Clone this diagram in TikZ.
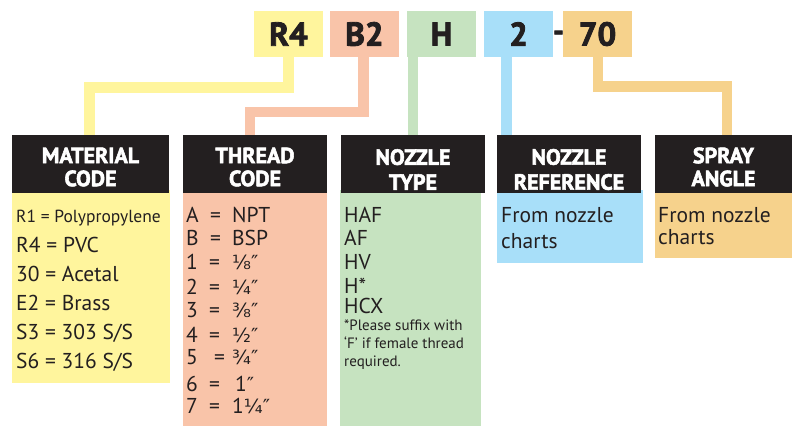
\documentclass[tikz,border=0pt]{standalone}
\usepackage{fontspec}
\setmainfont{PT Sans}
\newfontfamily\heavy{PT Sans}[BoldFeatures={FakeBold=2.5}]
\newfontfamily\fr{DejaVu Sans}
\definecolor{ink}{HTML}{231F20}
\definecolor{cy}{HTML}{FFF59D}
\definecolor{cs}{HTML}{F9C4A9}
\definecolor{cg}{HTML}{C6E3C0}
\definecolor{cb}{HTML}{A8DFF9}
\definecolor{co}{HTML}{F6D28C}
\newcommand{\thr}[3]{\makebox[#1pt][l]{#2}#3}
\newcommand{\frc}[1]{{\fr\fontsize{19.5}{19.5}\selectfont #1}}
\begin{document}
\begin{tikzpicture}[x=1pt,y=-1pt,
  codebox/.style={rectangle, minimum width=69pt, minimum height=46pt, inner sep=0pt,
    text=ink, font=\fontsize{33}{33}\selectfont\heavy\bfseries},
  hdr/.style={rectangle, fill=ink, inner sep=0pt, minimum height=58pt},
  hlab/.style={inner sep=0pt, text=white, align=center, font=\fontsize{22}{23}\selectfont\heavy\bfseries},
  conn/.style={line width=10.5pt},
  txt/.style={anchor=base west, inner sep=0pt, text=ink, font=\fontsize{21.5}{21.5}\selectfont},
  small/.style={anchor=base west, inner sep=0pt, text=ink, font=\fontsize{15}{15}\selectfont}]
\useasboundingbox (0,0) rectangle (792,426);

% top code boxes
\node[codebox, fill=cy] (r4) at (288.5,34) {R4};
\node[codebox, fill=cs] (b2) at (364.5,34) {B2};
\node[codebox, fill=cg] (h) at (441.5,34) {H};
\node[codebox, fill=cb] (two) at (518.5,34) {2};
\node[codebox, fill=co] (seventy) at (597.5,34) {70};
\node[inner sep=0pt, text=ink, font=\fontsize{30}{30}\selectfont\heavy\bfseries] (dash) at (558.5,36) {-};

% body panels
\fill[cy] (12,190) rectangle (170,383);
\fill[cs] (183,190) rectangle (327,426);
\fill[cg] (340,190) rectangle (481,426);
\fill[cb] (497,190) rectangle (643,263);
\fill[co] (655,190) rectangle (792,258);

% header bars
\node[hdr, minimum width=157pt] (mat) at (90.5,164) {};
\node[hdr, minimum width=144pt] (thrd) at (255,164) {};
\node[hdr, minimum width=144pt] (ntype) at (413,164) {};
\node[hdr, minimum width=144pt] (nref) at (569,164) {};
\node[hdr, minimum width=137pt] (spray) at (723.5,164) {};

% connectors
\draw[conn, cy] (r4.south) -- ++(0,30.5) -| ([xshift=-1pt]mat.north);
\draw[conn, cs] ([xshift=-1pt]b2.south) -- ++(0,55) -| ([xshift=-5pt]thrd.north);
\draw[conn, cg] ([xshift=-28.5pt]h.south) -- (ntype.north);
\draw[conn, cb] ([xshift=-12pt]two.south) -- ([xshift=-12pt]two.south |- nref.north);
\draw[conn, co] ([xshift=0.5pt]seventy.south) -- ++(0,29.5) -| ([xshift=3.5pt]spray.north);

% redraw header bars on top of connector ends
\fill[ink] (mat.south west) rectangle (mat.north east);
\fill[ink] (thrd.south west) rectangle (thrd.north east);
\fill[ink] (ntype.south west) rectangle (ntype.north east);
\fill[ink] (nref.south west) rectangle (nref.north east);
\fill[ink] (spray.south west) rectangle (spray.north east);

% header labels
\node[hlab] (matl) at (90.5,167) {MATERIAL\\CODE};
\node[hlab] (thrl) at (255,167) {THREAD\\CODE};
\node[hlab] (ntypel) at (413,169.5) {NOZZLE\\[2pt]TYPE};
\node[hlab] (nrefl) at (569,169.5) {NOZZLE\\[2pt]REFERENCE};
\node[hlab] (sprayl) at (723.5,167) {SPRAY\\ANGLE};

% material code
\node[txt, font=\fontsize{17.5}{17.5}\selectfont] (m1) at (16,222) {R1 = Polypropylene};
\node[txt] (m2) at (16,252) {R4 = PVC};
\node[txt] (m3) at (16,281) {30 = Acetal};
\node[txt] (m4) at (16,310) {E2 = Brass};
\node[txt] (m5) at (16,339) {S3 = 303 S/S};
\node[txt] (m6) at (16,368) {S6 = 316 S/S};

% thread code
\node[txt] (t1) at (186,222) {\thr{24}{A}{\thr{22}{=}{NPT}}};
\node[txt] (t2) at (186,245) {\thr{24}{B}{\thr{22}{=}{BSP}}};
\node[txt] (t3) at (186,269) {\thr{23}{1}{\thr{23}{=}{\frc{⅛″}}}};
\node[txt] (t4) at (186,294) {\thr{23}{2}{\thr{23}{=}{\frc{¼″}}}};
\node[txt] (t5) at (186,317) {\thr{23}{3}{\thr{23}{=}{\frc{⅜″}}}};
\node[txt] (t6) at (186,342) {\thr{23}{4}{\thr{23}{=}{\frc{½″}}}};
\node[txt] (t7) at (186,364) {\thr{28}{5}{\thr{18}{=}{\frc{¾″}}}};
\node[txt] (t8) at (186,391) {\thr{23}{6}{\thr{26}{=}{1\frc{″}}}};
\node[txt] (t9) at (186,413) {\thr{23}{7}{\thr{23}{=}{1\frc{¼″}}}};

% nozzle type
\node[txt] (n1) at (344,222) {HAF};
\node[txt] (n2) at (344,245) {AF};
\node[txt] (n3) at (344,269) {HV};
\node[txt] (n4) at (344,293) {H*};
\node[txt] (n5) at (344,313) {HCX};
\node[small] (n6) at (344,330) {*Please suffix with};
\node[small] (n7) at (344,348) {‘F’ if female thread};
\node[small] (n8) at (344,366) {required.};

% nozzle reference
\node[txt] (r1) at (501,222) {From nozzle};
\node[txt] (r2) at (501,248) {charts};

% spray angle
\node[txt] (s1) at (658,222) {From nozzle};
\node[txt] (s2) at (658,244) {charts};
\end{tikzpicture}
\end{document}
